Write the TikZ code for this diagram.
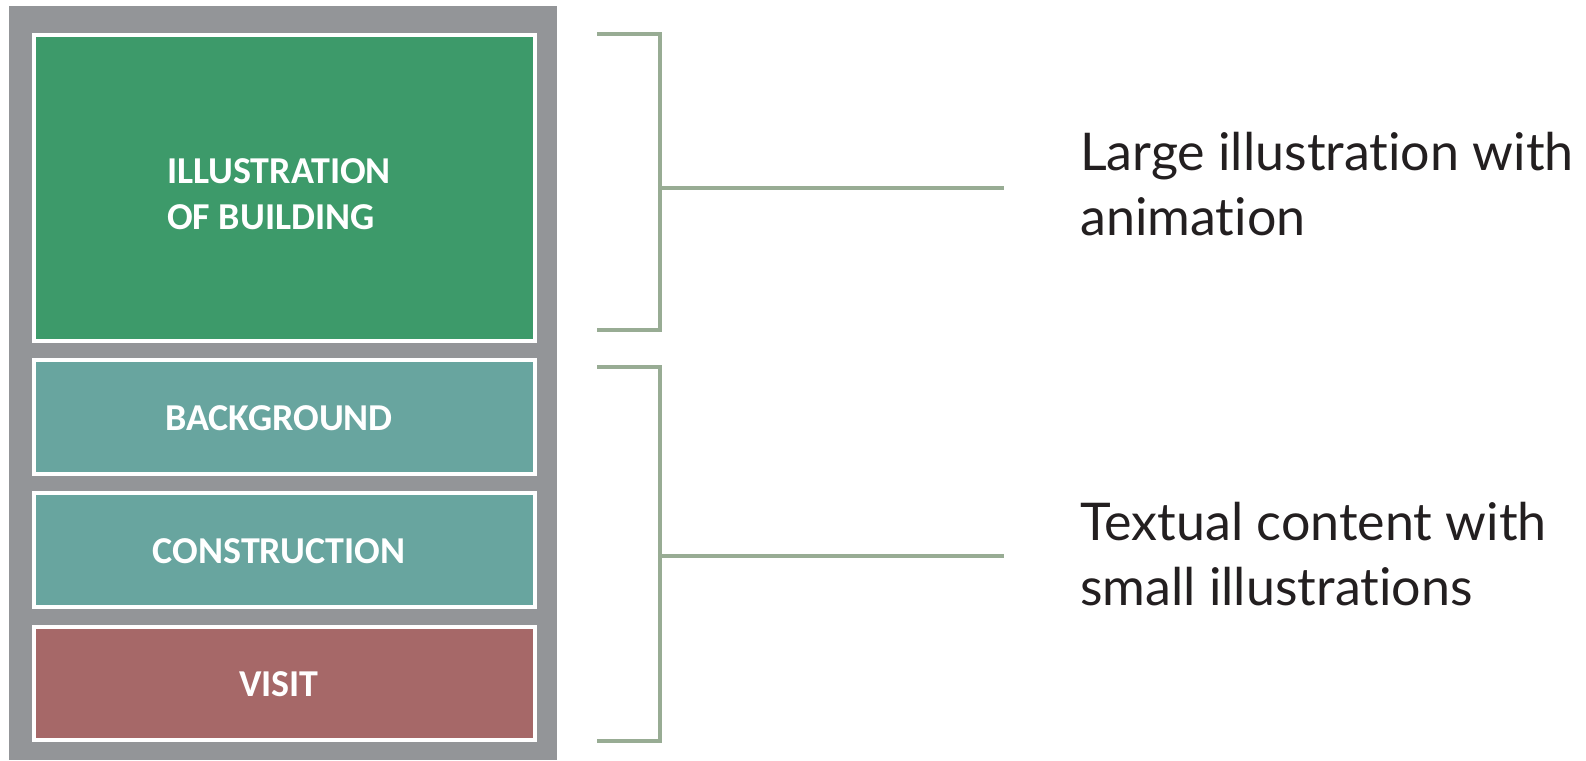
\documentclass[tikz,border=0pt]{standalone}
\usepackage{fontspec}
\setmainfont[Ligatures=NoCommon]{Lato}
\newfontfamily\boxfont{Carlito}
\definecolor{panelgray}{HTML}{939598}
\definecolor{bldgreen}{HTML}{3D9A6A}
\definecolor{tealbox}{HTML}{68A59F}
\definecolor{visitred}{HTML}{A66868}
\definecolor{bracketgreen}{HTML}{98AC94}
\definecolor{textdark}{HTML}{231F20}
\begin{document}
\begin{tikzpicture}[x=1pt,y=-1pt,
  section/.style={draw=white,line width=4pt,inner sep=0pt,outer sep=0pt,
    minimum width=501pt},
  seclabel/.style={inner sep=0pt,text=white,
    font=\boxfont\bfseries\fontsize{38}{46}\selectfont,align=left},
  bracket/.style={draw=bracketgreen,line width=4pt,line join=miter},
  caption/.style={anchor=base west,inner sep=0pt,text=textdark,align=left,
    font=\fontsize{52}{65}\selectfont}]
\useasboundingbox (0,0) rectangle (1586,760);
\fill[white] (0,0) rectangle (1586,760);
% grey panel
\fill[panelgray] (9,6) rectangle (557,760);
% boxes
\node[section,fill=bldgreen,minimum height=306pt] (ill) at (284,188) {};
\node[section,fill=tealbox,minimum height=114pt] (bg) at (284,417) {};
\node[section,fill=tealbox,minimum height=114pt] (con) at (284,550) {};
\node[section,fill=visitred,minimum height=113pt] (vis) at (284,683.5) {};
% labels
\node[seclabel] (illt) at ([xshift=-5pt,yshift=-6pt]ill.center) {ILLUSTRATION\\OF BUILDING};
\node[seclabel] (bgt) at ([xshift=-5pt,yshift=-1pt]bg.center) {BACKGROUND};
\node[seclabel] (cont) at ([xshift=-5pt,yshift=-1pt]con.center) {CONSTRUCTION};
\node[seclabel] (vist) at ([xshift=-5pt,yshift=-1pt]vis.center) {VISIT};
% captions
\node[caption] (cap1) at (1080,235) {Large illustration with\\animation};
\node[caption] (cap2) at (1080,605) {Textual content with\\small illustrations};
% brackets
\coordinate (b1t) at (597,34);
\coordinate (b1b) at (597,330);
\coordinate (b1m) at (660,188);
\coordinate (b1e) at (1004,188);
\coordinate (b2t) at (597,367);
\coordinate (b2b) at (597,741);
\coordinate (b2m) at (660,556);
\coordinate (b2e) at (1004,556);
\draw[bracket] (b1t) -| (b1b -| b1m) -- (b1b);
\draw[bracket] (b1m) -- (b1e);
\draw[bracket] (b2t) -| (b2b -| b2m) -- (b2b);
\draw[bracket] (b2m) -- (b2e);
\end{tikzpicture}
\end{document}
